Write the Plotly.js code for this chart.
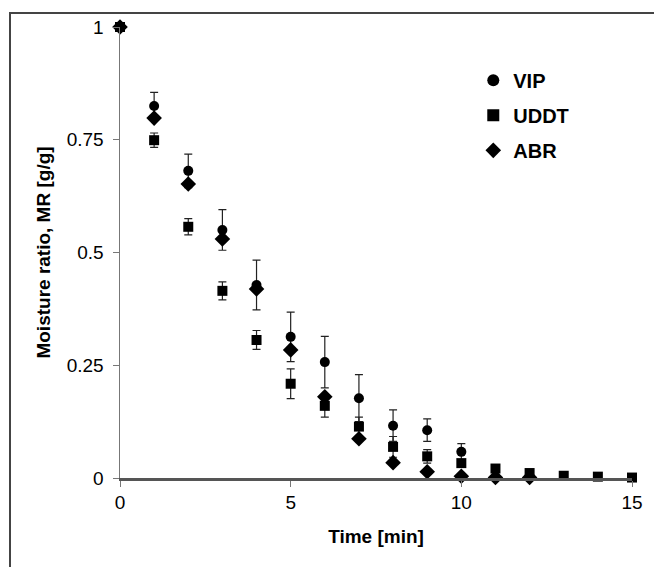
<!DOCTYPE html>
<html>
<head>
<meta charset="utf-8">
<script src="https://cdn.plot.ly/plotly-3.0.1.min.js"></script>
<style>
html,body{margin:0;padding:0;background:#fff;}
#wrap{position:relative;width:654px;height:567px;}
#chart{width:654px;height:567px;}
#frame{position:absolute;left:9px;top:12px;width:660px;height:600px;border-top:2px solid #444;border-left:2px solid #444;pointer-events:none;}
</style>
</head>
<body>
<div id="wrap"><div id="chart"></div><div id="frame"></div></div>
<script>
const timeVIP = [0,1,2,3,4,5,6,7,8,9,10];
const mrVIP   = [1,0.825,0.681,0.55,0.428,0.313,0.257,0.177,0.116,0.106,0.058];
const errVIP  = [0,0.03,0.037,0.045,0.055,0.055,0.057,0.052,0.035,0.025,0.018];

const timeUDDT = [0,1,2,3,4,5,6,7,8,9,10,11,12,13,14,15];
const mrUDDT   = [1,0.749,0.557,0.415,0.306,0.209,0.16,0.114,0.069,0.048,0.033,0.021,0.011,0.005,0.003,0.001];
const errUDDT  = [0,0.016,0.018,0.02,0.021,0.033,0.025,0.021,0.023,0.015,0.008,0,0,0,0,0];

const timeABR = [0,1,2,3,4,5,6,7,8,9,10,11,12];
const mrABR   = [1,0.798,0.652,0.53,0.419,0.284,0.18,0.087,0.034,0.014,0.004,0.001,0.001];

const tickVals = [0,0.25,0.5,0.75,1];
const tickText = ['0','0.25','0.5','0.75','1'];

const font = {family:'"Liberation Sans", Arial, sans-serif', color:'#000'};
const eb = (arr)=>({type:'data', array:arr, visible:true, color:'#222', thickness:1.2, width:4});

const traces = [
  {x:timeVIP, y:mrVIP, name:'VIP', mode:'markers', type:'scatter', legendgroup:'a',
   marker:{symbol:'circle', size:10, color:'#000'}, error_y:eb(errVIP), cliponaxis:false},
  {x:timeUDDT, y:mrUDDT, name:'UDDT', mode:'markers', type:'scatter', legendgroup:'b',
   marker:{symbol:'square', size:10, color:'#000'}, error_y:eb(errUDDT), cliponaxis:false},
  {x:timeABR, y:mrABR, name:'ABR', mode:'markers', type:'scatter', legendgroup:'c',
   marker:{symbol:'diamond', size:12, color:'#000'}, cliponaxis:false}
];

const layout = {
  width:654, height:567,
  margin:{l:120, r:22, t:27, b:89},
  paper_bgcolor:'#fff', plot_bgcolor:'#fff',
  font:Object.assign({size:19}, font),
  showlegend:true,
  legend:{x:0.69, y:0.925, xanchor:'left', yanchor:'top', bgcolor:'rgba(0,0,0,0)',
    font:Object.assign({size:20, weight:'bold'}, font),
    traceorder:'grouped', tracegroupgap:6, itemsizing:'constant', itemwidth:30},
  xaxis:{range:[0,15], tickvals:[0,5,10,15], ticktext:['0','5','10','15'],
    showgrid:false, zeroline:false, showline:true, linecolor:'#555', linewidth:2.5,
    ticks:'outside', ticklen:6, tickcolor:'#777', tickwidth:1,
    tickfont:Object.assign({size:19}, font),
    title:{text:'Time [min]', font:Object.assign({size:19, weight:'bold'}, font), standoff:18}},
  yaxis:{range:[0,1], tickvals:tickVals, ticktext:tickText,
    showgrid:false, zeroline:false, showline:true, linecolor:'#777', linewidth:1.5,
    ticks:'outside', ticklen:6, tickcolor:'#777', tickwidth:1, ticklabelstandoff:5,
    tickfont:Object.assign({size:19}, font),
    title:{text:'Moisture ratio, MR [g/g]', font:Object.assign({size:19, weight:'bold'}, font), standoff:11}}
};

Plotly.newPlot('chart', traces, layout, {displayModeBar:false, staticPlot:true});
</script>
</body>
</html>
